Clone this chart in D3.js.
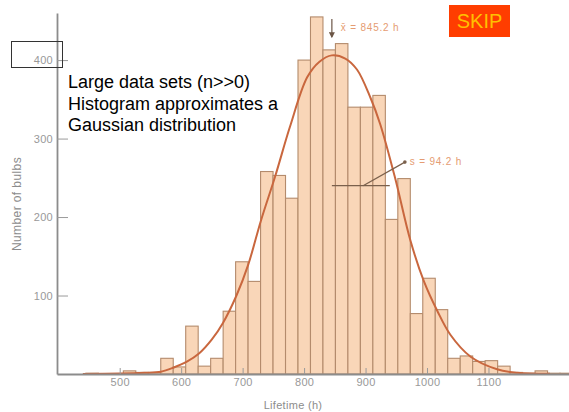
<!DOCTYPE html>
<html lang="en">
<head>
<meta charset="UTF-8">
<title>Lifetime histogram</title>
<script src="https://d3js.org/d3.v7.min.js"></script>
<style>
  body { margin: 0; background: #fff; }
  svg { display: block; font-family: "Liberation Sans", Arial, sans-serif; }
</style>
</head>
<body>
<svg id="chart" width="569" height="412"></svg>
<script>
// histogram bins (lifetime, h) and number of bulbs in each bin
const binStart = 445;
const binWidth = 20.3;
const counts = [1, 0, 0, 4, 2, 2, 20, 9, 61, 10, 20, 80, 143, 118, 258, 253, 224, 400, 455, 413,
                421, 340, 340, 355, 197, 249, 77, 122, 82, 20, 23, 16, 17, 10, 2, 1, 4, 1, 1];

// fitted curve
const curveHours  = [440, 500, 540, 567, 587, 610, 629, 650, 668, 690, 709, 730, 753, 777, 805,
                     825, 845, 867, 886, 908, 924, 948, 973, 995, 1017, 1038, 1071, 1114, 1147, 1200];
const curveCounts = [0, 0.5, 1.5, 3, 8, 16, 26, 44, 65, 100, 139, 196, 252, 315, 378,
                     398, 406, 402, 388, 352, 318, 250, 170, 118, 80, 50, 22, 6, 1.5, 0.3];

const xTicks = [500, 600, 700, 800, 900, 1000, 1100];
const yTicks = [100, 200, 300, 400];

const mean = 845.2, sd = 94.2;

const svg = d3.select("#chart");
const x = d3.scaleLinear().domain([398, 1231]).range([57, 569]);
const y = d3.scaleLinear().domain([0, 460]).range([374, 13]);

const bins = counts.map((c, i) => ({ x0: binStart + i * binWidth, n: c }));

// bars
svg.append("g")
  .selectAll("rect")
  .data(bins.filter(d => d.n > 0))
  .join("rect")
  .attr("x", d => x(d.x0))
  .attr("y", d => y(d.n))
  .attr("width", d => x(d.x0 + binWidth) - x(d.x0))
  .attr("height", d => y(0) - y(d.n))
  .attr("fill", "#f9d6b8")
  .attr("stroke", "#b48b6c")
  .attr("stroke-width", 1.1);

// gaussian curve
const line = d3.line()
  .x(d => x(d[0]))
  .y(d => y(d[1]))
  .curve(d3.curveCatmullRom);
svg.append("path")
  .datum(curveHours.map((h, i) => [h, curveCounts[i]]))
  .attr("d", line)
  .attr("fill", "none")
  .attr("stroke", "#c9673e")
  .attr("stroke-width", 2);

// axes
const yAxis = d3.axisLeft(y).tickValues(yTicks).tickSizeInner(-11).tickSizeOuter(0).tickPadding(4);
const gy = svg.append("g").attr("transform", "translate(57,0)").call(yAxis);
const xAxis = d3.axisBottom(x).tickValues(xTicks).tickFormat(d3.format("d"))
  .tickSizeInner(-6).tickSizeOuter(0).tickPadding(4);
const gx = svg.append("g").attr("transform", "translate(0,374)").call(xAxis);
[gx, gy].forEach(g => {
  g.select(".domain").attr("stroke", "#8c8c8c").attr("stroke-width", 1.8);
  g.selectAll(".tick line").attr("stroke", "#9a9a9a").attr("stroke-width", 1);
  g.selectAll(".tick text").attr("fill", "#999").style("font-size", "11px")
    .style("font-family", "'Liberation Sans', Arial, sans-serif").style("letter-spacing", "0.3px");
});

svg.append("text")
  .attr("x", 293).attr("y", 409)
  .attr("text-anchor", "middle")
  .attr("fill", "#8c8c8c").style("font-size", "11px")
  .style("letter-spacing", "0.3px")
  .text("Lifetime (h)");

svg.append("text")
  .attr("transform", "translate(21,204) rotate(-90)")
  .attr("text-anchor", "middle")
  .attr("fill", "#8c8c8c").style("font-size", "12px")
  .style("letter-spacing", "0.4px")
  .text("Number of bulbs");

// mean annotation
const arrowX = x(mean);
svg.append("defs").append("marker")
  .attr("id", "arrow").attr("viewBox", "0 0 10 10")
  .attr("refX", 8).attr("refY", 5)
  .attr("markerWidth", 5).attr("markerHeight", 5)
  .attr("orient", "auto")
  .append("path").attr("d", "M0,0L10,5L0,10z").attr("fill", "#6b5646");
svg.append("line")
  .attr("x1", arrowX).attr("x2", arrowX)
  .attr("y1", 19).attr("y2", 37)
  .attr("stroke", "#6b5646").attr("stroke-width", 1.2)
  .attr("marker-end", "url(#arrow)");
svg.append("text")
  .attr("x", arrowX + 9).attr("y", 31)
  .attr("fill", "#e59c72").style("font-size", "10px").style("letter-spacing", "0.8px")
  .text("x\u0304 = 845.2 h");

// standard deviation annotation
svg.append("line")
  .attr("x1", x(mean)).attr("x2", x(mean + sd))
  .attr("y1", y(240)).attr("y2", y(240))
  .attr("stroke", "#7a604c").attr("stroke-width", 1.2);
svg.append("line")
  .attr("x1", x(896)).attr("x2", x(964))
  .attr("y1", y(240)).attr("y2", y(270))
  .attr("stroke", "#7a604c").attr("stroke-width", 1.2);
svg.append("circle")
  .attr("cx", x(964)).attr("cy", y(270)).attr("r", 1.8)
  .attr("fill", "#7a604c");
svg.append("text")
  .attr("x", x(972)).attr("y", y(270) + 3)
  .attr("fill", "#e59c72").style("font-size", "10px").style("letter-spacing", "0.8px")
  .text("s = 94.2 h");

// overlaid slide text
const notes = ["Large data sets (n>>0)", "Histogram approximates a", "Gaussian distribution"];
svg.append("g")
  .selectAll("text")
  .data(notes)
  .join("text")
  .attr("x", 68)
  .attr("y", (d, i) => 88 + i * 21.6)
  .attr("fill", "#000")
  .style("font-size", "18px")
  .text(d => d);

svg.append("rect")
  .attr("x", 11.5).attr("y", 41.5)
  .attr("width", 51).attr("height", 26)
  .attr("fill", "none").attr("stroke", "#333").attr("stroke-width", 1);

// skip button
svg.append("rect")
  .attr("x", 449).attr("y", 5)
  .attr("width", 61).attr("height", 32)
  .attr("fill", "#ff3d00");
svg.append("text")
  .attr("x", 479.5).attr("y", 28)
  .attr("text-anchor", "middle")
  .attr("fill", "#ffc000")
  .style("font-size", "20px")
  .text("SKIP");
</script>
</body>
</html>
